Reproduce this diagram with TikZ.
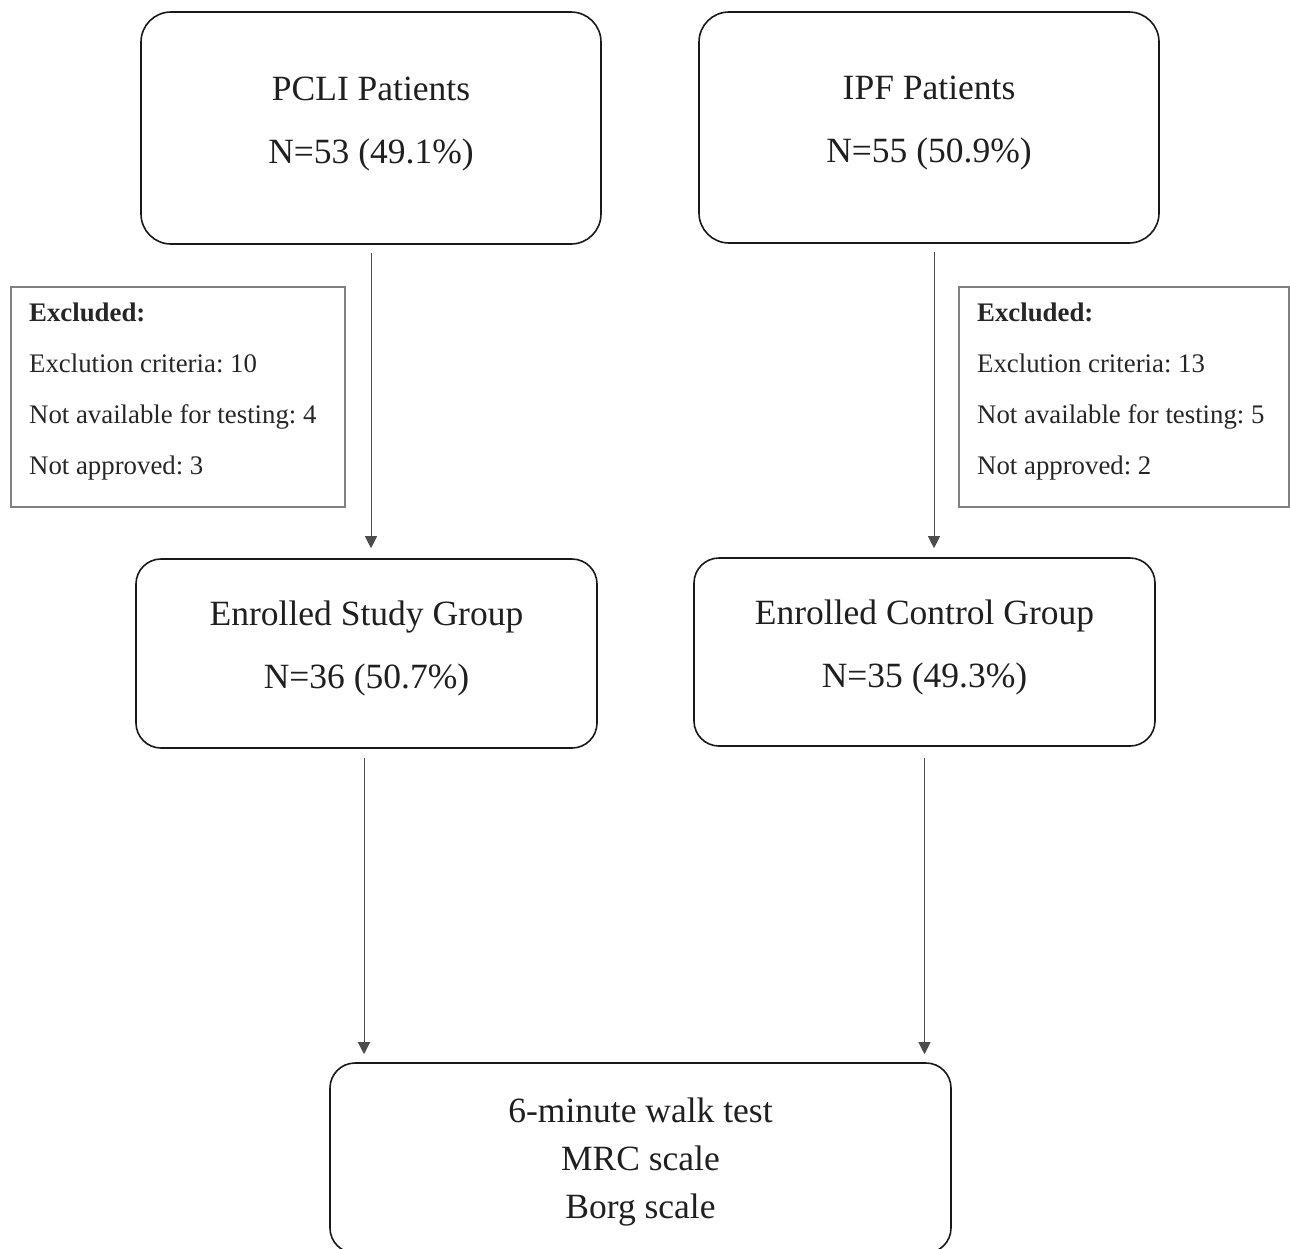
\documentclass[tikz,border=0pt]{standalone}
\usepackage{fontspec}
\setmainfont{Liberation Serif}
\usetikzlibrary{arrows.meta}
\frenchspacing
\begin{document}
\begin{tikzpicture}[x=1pt,y=-1pt,
 mainbox/.style={draw=black!90, line width=1.6pt, rounded corners=30pt, inner sep=0pt},
 bigtext/.style={align=center, inner sep=0pt, font=\fontsize{35.5}{63}\selectfont, text=black!88},
 exbox/.style={draw=black!50, line width=1.2pt, inner sep=0pt},
 extext/.style={align=left, inner sep=0pt, font=\fontsize{26.8}{51}\selectfont, text=black!85},
 arr/.style={draw=black!70, line width=1pt, -{Triangle[width=12pt,length=12pt]}}]
\useasboundingbox (0,0) rectangle (1290,1248);
% top boxes
\node[mainbox, minimum width=460pt, minimum height=232pt] (pcli) at (371,128) {};
\node[bigtext] (pclit) at ([yshift=4pt]pcli.center) {PCLI Patients\\N=53 (49.1\%)};
\node[mainbox, minimum width=460pt, minimum height=231pt] (ipf) at (929,127.5) {};
\node[bigtext] (ipft) at ([yshift=4pt]ipf.center) {IPF Patients\\N=55 (50.9\%)};
% middle boxes
\node[mainbox, rounded corners=25pt, minimum width=461pt, minimum height=189pt] (study) at (366.5,653.5) {};
\node[bigtext] (studyt) at ([yshift=5pt]study.center) {Enrolled Study Group\\N=36 (50.7\%)};
\node[mainbox, rounded corners=25pt, minimum width=461pt, minimum height=188pt] (control) at (924.5,652) {};
\node[bigtext] (controlt) at ([yshift=5pt]control.center) {Enrolled Control Group\\N=35 (49.3\%)};
% bottom box
\node[mainbox, rounded corners=25pt, minimum width=621pt, minimum height=190pt] (walk) at (640.5,1158) {};
\node[bigtext, font=\fontsize{35.5}{48}\selectfont] (walkt) at ([yshift=-4pt]walk.center) {6-minute walk test\\MRC scale\\Borg scale};
% excluded boxes
\node[exbox, minimum width=334pt, minimum height=220pt] (exl) at (178,397) {};
\node[extext, anchor=north west] (exlt) at (29,303) {\textbf{Excluded:}\\Exclution criteria: 10\\Not available for testing: 4\\Not approved: 3};
\node[exbox, minimum width=330pt, minimum height=220pt] (exr) at (1124,397) {};
\node[extext, anchor=north west] (exrt) at (977,303) {\textbf{Excluded:}\\Exclution criteria: 13\\Not available for testing: 5\\Not approved: 2};
% connectors
\coordinate (ipfout) at ([xshift=5pt]ipf.south);
\coordinate (studyout) at ([xshift=-2.5pt]study.south);
\draw[arr, shorten <=8pt, shorten >=10pt] (pcli.south) -- (pcli.south |- study.north);
\draw[arr, shorten <=8pt, shorten >=9pt] (ipfout) -- (ipfout |- control.north);
\draw[arr, shorten <=9pt, shorten >=8pt] (studyout) -- (studyout |- walk.north);
\draw[arr, shorten <=11pt, shorten >=8pt] (control.south) -- (control.south |- walk.north);
\end{tikzpicture}
\end{document}
